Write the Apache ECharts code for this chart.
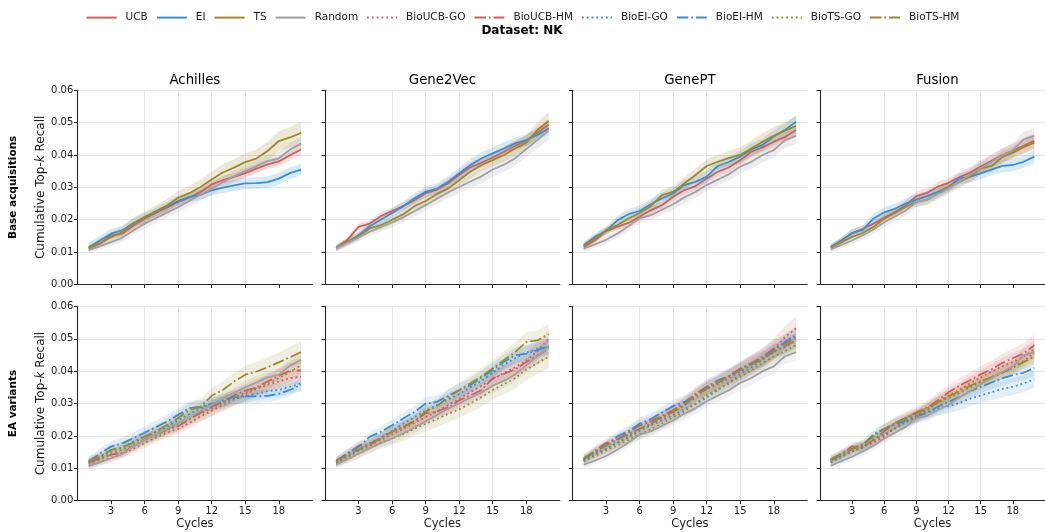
<!DOCTYPE html>
<html>
<head>
<meta charset="utf-8">
<script src="https://cdn.jsdelivr.net/npm/echarts@6/dist/echarts.min.js"></script>
<style>html,body{margin:0;padding:0;background:#fff}#c{width:1045px;height:532px}</style>
</head>
<body>
<div id="c"></div>
<script>
// ---------------- DATA ----------------
const CYCLES = [1,2,3,4,5,6,7,8,9,10,11,12,13,14,15,16,17,18,19,20];
const X_TICKS = [3,6,9,12,15,18];
const Y_TICKS_MAX = 0.06;
const DATASETS = ['Achilles','Gene2Vec','GenePT','Fusion'];
const ROW_LABELS = ['Base acquisitions','EA variants'];
const METHODS = ['UCB','EI','TS','Random','BioUCB-GO','BioUCB-HM','BioEI-GO','BioEI-HM','BioTS-GO','BioTS-HM'];

// Achilles
const ACH_UCB = [0.0111,0.0126,0.0152,0.0157,0.0182,0.0203,0.0221,0.0237,0.0255,0.0268,0.0286,0.0309,0.0322,0.0332,0.0344,0.0358,0.0371,0.0380,0.0399,0.0417];
const ACH_EI  = [0.0115,0.0136,0.0157,0.0167,0.0190,0.0206,0.0224,0.0241,0.0258,0.0270,0.0277,0.0291,0.0299,0.0306,0.0312,0.0313,0.0316,0.0327,0.0344,0.0355];
const ACH_TS  = [0.0113,0.0128,0.0146,0.0162,0.0188,0.0208,0.0226,0.0244,0.0268,0.0282,0.0301,0.0324,0.0346,0.0361,0.0378,0.0389,0.0412,0.0443,0.0454,0.0468];
const ACH_RND = [0.0107,0.0118,0.0131,0.0144,0.0167,0.0188,0.0205,0.0222,0.0239,0.0258,0.0277,0.0296,0.0316,0.0334,0.0350,0.0365,0.0381,0.0389,0.0417,0.0435];
const ACH_UCB_SD = [0.0008,0.0008,0.0009,0.0009,0.0010,0.0010,0.0010,0.0011,0.0011,0.0012,0.0012,0.0012,0.0013,0.0013,0.0014,0.0014,0.0015,0.0016,0.0017,0.0018];
const ACH_EI_SD  = [0.0012,0.0014,0.0015,0.0015,0.0015,0.0014,0.0014,0.0014,0.0015,0.0015,0.0016,0.0016,0.0017,0.0017,0.0017,0.0018,0.0018,0.0018,0.0018,0.0018];
const ACH_TS_SD  = [0.0012,0.0013,0.0014,0.0016,0.0017,0.0018,0.0019,0.0020,0.0021,0.0022,0.0023,0.0024,0.0025,0.0026,0.0027,0.0028,0.0029,0.0030,0.0032,0.0034];
const ACH_RND_SD = [0.0010,0.0011,0.0012,0.0013,0.0014,0.0015,0.0015,0.0016,0.0016,0.0017,0.0017,0.0018,0.0018,0.0018,0.0019,0.0019,0.0020,0.0020,0.0021,0.0021];
const ACH_BUCB_GO = [0.0108,0.0120,0.0132,0.0145,0.0160,0.0178,0.0195,0.0210,0.0222,0.0240,0.0260,0.0278,0.0295,0.0312,0.0328,0.0345,0.0358,0.0368,0.0378,0.0383];
const ACH_BUCB_HM = [0.0118,0.0130,0.0142,0.0148,0.0168,0.0190,0.0205,0.0220,0.0230,0.0250,0.0272,0.0290,0.0305,0.0325,0.0340,0.0350,0.0368,0.0385,0.0402,0.0402];
const ACH_BEI_GO  = [0.0118,0.0135,0.0152,0.0165,0.0183,0.0198,0.0212,0.0228,0.0248,0.0268,0.0285,0.0298,0.0305,0.0315,0.0322,0.0330,0.0338,0.0342,0.0352,0.0362];
const ACH_BEI_HM  = [0.0120,0.0146,0.0167,0.0177,0.0193,0.0210,0.0227,0.0244,0.0265,0.0286,0.0290,0.0299,0.0311,0.0320,0.0322,0.0322,0.0324,0.0330,0.0342,0.0358];
const ACH_BTS_GO  = [0.0115,0.0128,0.0145,0.0158,0.0172,0.0188,0.0202,0.0218,0.0235,0.0255,0.0268,0.0285,0.0302,0.0318,0.0333,0.0348,0.0362,0.0378,0.0398,0.0418];
const ACH_BTS_HM  = [0.0124,0.0136,0.0157,0.0165,0.0179,0.0198,0.0213,0.0234,0.0255,0.0280,0.0290,0.0324,0.0342,0.0368,0.0389,0.0399,0.0412,0.0427,0.0443,0.0459];
const ACH_BUCB_GO_SD = [0.0010,0.0011,0.0012,0.0013,0.0014,0.0015,0.0015,0.0016,0.0016,0.0017,0.0017,0.0018,0.0018,0.0019,0.0019,0.0020,0.0020,0.0021,0.0021,0.0022];
const ACH_BUCB_HM_SD = [0.0012,0.0012,0.0013,0.0014,0.0015,0.0015,0.0016,0.0017,0.0017,0.0018,0.0018,0.0019,0.0020,0.0020,0.0021,0.0022,0.0022,0.0023,0.0024,0.0025];
const ACH_BEI_GO_SD  = [0.0012,0.0013,0.0014,0.0015,0.0016,0.0016,0.0017,0.0017,0.0018,0.0018,0.0018,0.0019,0.0019,0.0019,0.0020,0.0020,0.0020,0.0021,0.0021,0.0022];
const ACH_BEI_HM_SD  = [0.0014,0.0016,0.0017,0.0018,0.0019,0.0020,0.0021,0.0021,0.0022,0.0022,0.0021,0.0020,0.0020,0.0020,0.0020,0.0020,0.0019,0.0019,0.0018,0.0018];
const ACH_BTS_GO_SD  = [0.0012,0.0013,0.0014,0.0015,0.0016,0.0017,0.0018,0.0019,0.0020,0.0021,0.0022,0.0023,0.0024,0.0025,0.0026,0.0027,0.0028,0.0029,0.0030,0.0031];
const ACH_BTS_HM_SD  = [0.0014,0.0015,0.0016,0.0017,0.0018,0.0019,0.0020,0.0021,0.0022,0.0023,0.0024,0.0025,0.0026,0.0027,0.0028,0.0029,0.0030,0.0031,0.0033,0.0035];

// Gene2Vec
const G2V_UCB = [0.0113,0.0138,0.0178,0.0188,0.0211,0.0227,0.0242,0.0260,0.0281,0.0293,0.0312,0.0338,0.0362,0.0376,0.0392,0.0410,0.0428,0.0444,0.0469,0.0493];
const G2V_EI  = [0.0113,0.0131,0.0152,0.0180,0.0200,0.0221,0.0242,0.0266,0.0286,0.0296,0.0317,0.0343,0.0369,0.0390,0.0405,0.0420,0.0436,0.0446,0.0462,0.0482];
const G2V_TS  = [0.0113,0.0131,0.0149,0.0173,0.0183,0.0200,0.0217,0.0242,0.0258,0.0279,0.0296,0.0322,0.0348,0.0369,0.0384,0.0400,0.0420,0.0438,0.0477,0.0505];
const G2V_RND = [0.0111,0.0128,0.0145,0.0163,0.0178,0.0192,0.0208,0.0226,0.0245,0.0265,0.0284,0.0301,0.0318,0.0334,0.0355,0.0370,0.0390,0.0418,0.0446,0.0475];
const G2V_UCB_SD = [0.0008,0.0009,0.0010,0.0010,0.0011,0.0011,0.0012,0.0012,0.0013,0.0013,0.0014,0.0014,0.0015,0.0015,0.0016,0.0016,0.0016,0.0017,0.0017,0.0018];
const G2V_EI_SD  = [0.0009,0.0010,0.0011,0.0012,0.0013,0.0014,0.0015,0.0016,0.0017,0.0017,0.0018,0.0018,0.0019,0.0019,0.0019,0.0019,0.0018,0.0018,0.0017,0.0017];
const G2V_TS_SD  = [0.0010,0.0011,0.0012,0.0013,0.0013,0.0014,0.0015,0.0015,0.0016,0.0017,0.0017,0.0018,0.0019,0.0019,0.0020,0.0021,0.0022,0.0023,0.0025,0.0027];
const G2V_RND_SD = [0.0010,0.0011,0.0012,0.0013,0.0014,0.0015,0.0015,0.0016,0.0017,0.0018,0.0018,0.0019,0.0020,0.0021,0.0022,0.0022,0.0023,0.0024,0.0026,0.0028];
const G2V_BUCB_GO = [0.0115,0.0132,0.0155,0.0170,0.0188,0.0205,0.0222,0.0240,0.0258,0.0275,0.0295,0.0315,0.0335,0.0355,0.0375,0.0395,0.0412,0.0432,0.0462,0.0500];
const G2V_BUCB_HM = [0.0122,0.0145,0.0170,0.0172,0.0195,0.0213,0.0228,0.0245,0.0270,0.0275,0.0288,0.0310,0.0325,0.0342,0.0378,0.0392,0.0405,0.0428,0.0448,0.0470];
const G2V_BEI_GO  = [0.0118,0.0138,0.0155,0.0178,0.0195,0.0215,0.0238,0.0258,0.0278,0.0295,0.0312,0.0330,0.0350,0.0370,0.0395,0.0420,0.0440,0.0458,0.0468,0.0475];
const G2V_BEI_HM  = [0.0123,0.0146,0.0166,0.0197,0.0213,0.0233,0.0254,0.0274,0.0300,0.0305,0.0323,0.0341,0.0357,0.0380,0.0403,0.0429,0.0449,0.0454,0.0465,0.0477];
const G2V_BTS_GO  = [0.0115,0.0128,0.0145,0.0162,0.0178,0.0192,0.0205,0.0222,0.0238,0.0252,0.0268,0.0282,0.0300,0.0320,0.0342,0.0360,0.0378,0.0405,0.0425,0.0444];
const G2V_BTS_HM  = [0.0123,0.0141,0.0158,0.0177,0.0192,0.0213,0.0228,0.0247,0.0275,0.0292,0.0319,0.0341,0.0362,0.0384,0.0408,0.0434,0.0459,0.0490,0.0495,0.0514];
const G2V_BUCB_GO_SD = [0.0011,0.0012,0.0013,0.0014,0.0015,0.0016,0.0017,0.0018,0.0018,0.0019,0.0020,0.0021,0.0021,0.0022,0.0023,0.0024,0.0025,0.0026,0.0027,0.0028];
const G2V_BUCB_HM_SD = [0.0012,0.0013,0.0014,0.0015,0.0016,0.0016,0.0017,0.0018,0.0019,0.0019,0.0020,0.0021,0.0022,0.0022,0.0023,0.0024,0.0025,0.0025,0.0026,0.0027];
const G2V_BEI_GO_SD  = [0.0011,0.0012,0.0013,0.0014,0.0015,0.0016,0.0016,0.0017,0.0018,0.0018,0.0019,0.0019,0.0020,0.0020,0.0021,0.0021,0.0022,0.0022,0.0023,0.0023];
const G2V_BEI_HM_SD  = [0.0012,0.0013,0.0014,0.0015,0.0016,0.0017,0.0018,0.0019,0.0020,0.0020,0.0021,0.0021,0.0022,0.0022,0.0023,0.0023,0.0024,0.0024,0.0025,0.0025];
const G2V_BTS_GO_SD  = [0.0012,0.0013,0.0015,0.0016,0.0018,0.0019,0.0021,0.0022,0.0024,0.0025,0.0026,0.0027,0.0028,0.0029,0.0030,0.0031,0.0032,0.0033,0.0034,0.0035];
const G2V_BTS_HM_SD  = [0.0013,0.0014,0.0015,0.0016,0.0017,0.0018,0.0019,0.0020,0.0021,0.0022,0.0023,0.0024,0.0025,0.0026,0.0027,0.0028,0.0029,0.0030,0.0031,0.0032];

// GenePT
const GPT_UCB = [0.0116,0.0136,0.0165,0.0178,0.0190,0.0209,0.0229,0.0245,0.0271,0.0291,0.0304,0.0327,0.0348,0.0362,0.0384,0.0410,0.0424,0.0441,0.0455,0.0477];
const GPT_EI  = [0.0121,0.0147,0.0165,0.0198,0.0217,0.0227,0.0248,0.0266,0.0281,0.0307,0.0317,0.0333,0.0366,0.0379,0.0395,0.0417,0.0431,0.0457,0.0477,0.0503];
const GPT_TS  = [0.0118,0.0142,0.0167,0.0183,0.0204,0.0221,0.0242,0.0276,0.0286,0.0312,0.0338,0.0366,0.0379,0.0390,0.0400,0.0420,0.0441,0.0459,0.0475,0.0490];
const GPT_RND = [0.0111,0.0124,0.0138,0.0157,0.0180,0.0204,0.0214,0.0231,0.0248,0.0269,0.0286,0.0307,0.0324,0.0341,0.0364,0.0379,0.0400,0.0415,0.0446,0.0459];
const GPT_UCB_SD = [0.0008,0.0009,0.0010,0.0010,0.0011,0.0011,0.0012,0.0012,0.0013,0.0013,0.0014,0.0014,0.0014,0.0015,0.0015,0.0016,0.0016,0.0017,0.0017,0.0018];
const GPT_EI_SD  = [0.0010,0.0011,0.0012,0.0014,0.0016,0.0017,0.0017,0.0017,0.0017,0.0017,0.0018,0.0018,0.0018,0.0018,0.0018,0.0019,0.0019,0.0019,0.0020,0.0020];
const GPT_TS_SD  = [0.0010,0.0011,0.0012,0.0013,0.0014,0.0015,0.0016,0.0017,0.0018,0.0019,0.0020,0.0021,0.0022,0.0023,0.0024,0.0025,0.0026,0.0027,0.0028,0.0029];
const GPT_RND_SD = [0.0010,0.0011,0.0012,0.0013,0.0014,0.0015,0.0015,0.0016,0.0017,0.0018,0.0018,0.0019,0.0019,0.0020,0.0021,0.0022,0.0022,0.0023,0.0024,0.0025];
const GPT_BUCB_GO = [0.0125,0.0145,0.0160,0.0178,0.0198,0.0218,0.0235,0.0255,0.0272,0.0295,0.0318,0.0345,0.0360,0.0378,0.0398,0.0420,0.0440,0.0468,0.0505,0.0532];
const GPT_BUCB_HM = [0.0128,0.0155,0.0178,0.0190,0.0210,0.0232,0.0245,0.0262,0.0280,0.0302,0.0330,0.0352,0.0365,0.0385,0.0408,0.0425,0.0445,0.0470,0.0485,0.0505];
const GPT_BEI_GO  = [0.0122,0.0142,0.0160,0.0178,0.0195,0.0215,0.0232,0.0248,0.0265,0.0282,0.0298,0.0318,0.0342,0.0365,0.0390,0.0412,0.0435,0.0460,0.0475,0.0495];
const GPT_BEI_HM  = [0.0128,0.0150,0.0172,0.0198,0.0215,0.0238,0.0252,0.0272,0.0292,0.0305,0.0325,0.0350,0.0372,0.0385,0.0405,0.0422,0.0440,0.0465,0.0490,0.0512];
const GPT_BTS_GO  = [0.0122,0.0138,0.0155,0.0170,0.0188,0.0205,0.0220,0.0238,0.0258,0.0275,0.0300,0.0325,0.0345,0.0362,0.0382,0.0402,0.0425,0.0445,0.0462,0.0480];
const GPT_BTS_HM  = [0.0132,0.0152,0.0170,0.0188,0.0205,0.0222,0.0238,0.0258,0.0275,0.0295,0.0325,0.0345,0.0365,0.0385,0.0402,0.0420,0.0438,0.0460,0.0478,0.0495];
const GPT_BUCB_GO_SD = [0.0012,0.0013,0.0014,0.0015,0.0016,0.0017,0.0018,0.0019,0.0020,0.0021,0.0022,0.0023,0.0024,0.0026,0.0027,0.0029,0.0031,0.0033,0.0035,0.0037];
const GPT_BUCB_HM_SD = [0.0012,0.0013,0.0014,0.0015,0.0016,0.0016,0.0017,0.0018,0.0019,0.0020,0.0021,0.0022,0.0023,0.0024,0.0025,0.0026,0.0027,0.0028,0.0029,0.0030];
const GPT_BEI_GO_SD  = [0.0011,0.0012,0.0013,0.0014,0.0015,0.0016,0.0017,0.0017,0.0018,0.0019,0.0019,0.0020,0.0021,0.0021,0.0022,0.0022,0.0023,0.0023,0.0024,0.0024];
const GPT_BEI_HM_SD  = [0.0012,0.0013,0.0014,0.0016,0.0017,0.0018,0.0019,0.0019,0.0020,0.0020,0.0021,0.0022,0.0022,0.0023,0.0023,0.0024,0.0024,0.0025,0.0025,0.0026];
const GPT_BTS_GO_SD  = [0.0011,0.0012,0.0013,0.0014,0.0015,0.0016,0.0016,0.0017,0.0018,0.0018,0.0019,0.0019,0.0020,0.0020,0.0021,0.0021,0.0022,0.0022,0.0023,0.0023];
const GPT_BTS_HM_SD  = [0.0012,0.0013,0.0014,0.0015,0.0016,0.0017,0.0017,0.0018,0.0019,0.0019,0.0020,0.0020,0.0021,0.0021,0.0022,0.0022,0.0023,0.0023,0.0024,0.0024];

// Fusion
const FUS_UCB = [0.0114,0.0136,0.0159,0.0172,0.0188,0.0207,0.0224,0.0245,0.0273,0.0283,0.0302,0.0314,0.0331,0.0345,0.0364,0.0382,0.0400,0.0413,0.0428,0.0444];
const FUS_EI  = [0.0116,0.0136,0.0159,0.0169,0.0204,0.0223,0.0234,0.0250,0.0262,0.0273,0.0286,0.0302,0.0327,0.0333,0.0343,0.0355,0.0366,0.0369,0.0379,0.0395];
const FUS_TS  = [0.0114,0.0131,0.0147,0.0159,0.0178,0.0204,0.0221,0.0240,0.0255,0.0262,0.0281,0.0302,0.0317,0.0333,0.0358,0.0366,0.0393,0.0407,0.0424,0.0438];
const FUS_RND = [0.0108,0.0122,0.0136,0.0152,0.0170,0.0192,0.0210,0.0228,0.0255,0.0262,0.0280,0.0296,0.0318,0.0338,0.0360,0.0378,0.0398,0.0415,0.0448,0.0459];
const FUS_UCB_SD = [0.0009,0.0010,0.0011,0.0011,0.0012,0.0013,0.0013,0.0014,0.0014,0.0015,0.0015,0.0016,0.0017,0.0018,0.0019,0.0020,0.0021,0.0022,0.0023,0.0024];
const FUS_EI_SD  = [0.0010,0.0011,0.0012,0.0013,0.0015,0.0016,0.0016,0.0016,0.0016,0.0016,0.0017,0.0017,0.0017,0.0018,0.0018,0.0018,0.0019,0.0019,0.0019,0.0020];
const FUS_TS_SD  = [0.0009,0.0010,0.0011,0.0011,0.0012,0.0013,0.0013,0.0014,0.0014,0.0015,0.0015,0.0016,0.0016,0.0017,0.0018,0.0018,0.0019,0.0019,0.0020,0.0021];
const FUS_RND_SD = [0.0010,0.0011,0.0012,0.0013,0.0014,0.0015,0.0015,0.0016,0.0016,0.0017,0.0018,0.0018,0.0019,0.0019,0.0020,0.0021,0.0021,0.0022,0.0023,0.0024];
const FUS_BUCB_GO = [0.0120,0.0138,0.0155,0.0165,0.0180,0.0198,0.0225,0.0245,0.0262,0.0280,0.0305,0.0325,0.0342,0.0362,0.0380,0.0398,0.0415,0.0428,0.0445,0.0468];
const FUS_BUCB_HM = [0.0128,0.0145,0.0168,0.0165,0.0188,0.0215,0.0240,0.0255,0.0272,0.0288,0.0310,0.0335,0.0355,0.0372,0.0390,0.0405,0.0425,0.0440,0.0455,0.0480];
const FUS_BEI_GO  = [0.0118,0.0135,0.0152,0.0165,0.0188,0.0205,0.0222,0.0242,0.0258,0.0272,0.0285,0.0292,0.0302,0.0315,0.0325,0.0335,0.0345,0.0352,0.0362,0.0375];
const FUS_BEI_HM  = [0.0125,0.0142,0.0160,0.0172,0.0205,0.0222,0.0235,0.0248,0.0260,0.0272,0.0290,0.0305,0.0320,0.0338,0.0352,0.0365,0.0378,0.0388,0.0395,0.0410];
const FUS_BTS_GO  = [0.0122,0.0138,0.0155,0.0168,0.0185,0.0205,0.0225,0.0245,0.0262,0.0282,0.0302,0.0318,0.0332,0.0350,0.0365,0.0380,0.0395,0.0412,0.0432,0.0455];
const FUS_BTS_HM  = [0.0128,0.0145,0.0160,0.0175,0.0198,0.0222,0.0240,0.0255,0.0268,0.0285,0.0305,0.0322,0.0338,0.0355,0.0368,0.0382,0.0395,0.0410,0.0428,0.0445];
const FUS_BUCB_GO_SD = [0.0011,0.0012,0.0013,0.0014,0.0015,0.0016,0.0017,0.0018,0.0019,0.0020,0.0021,0.0022,0.0022,0.0023,0.0024,0.0025,0.0026,0.0027,0.0028,0.0029];
const FUS_BUCB_HM_SD = [0.0012,0.0013,0.0014,0.0015,0.0016,0.0017,0.0018,0.0019,0.0020,0.0021,0.0022,0.0023,0.0024,0.0025,0.0026,0.0027,0.0028,0.0030,0.0032,0.0034];
const FUS_BEI_GO_SD  = [0.0011,0.0012,0.0013,0.0014,0.0015,0.0016,0.0017,0.0018,0.0019,0.0020,0.0021,0.0022,0.0023,0.0024,0.0024,0.0025,0.0025,0.0026,0.0026,0.0027];
const FUS_BEI_HM_SD  = [0.0011,0.0012,0.0013,0.0014,0.0015,0.0016,0.0017,0.0017,0.0018,0.0018,0.0019,0.0019,0.0020,0.0020,0.0021,0.0021,0.0022,0.0022,0.0023,0.0023];
const FUS_BTS_GO_SD  = [0.0011,0.0012,0.0013,0.0014,0.0015,0.0015,0.0016,0.0016,0.0017,0.0017,0.0018,0.0018,0.0019,0.0019,0.0020,0.0020,0.0021,0.0021,0.0022,0.0022];
const FUS_BTS_HM_SD  = [0.0011,0.0012,0.0013,0.0014,0.0015,0.0016,0.0016,0.0017,0.0017,0.0018,0.0018,0.0019,0.0019,0.0020,0.0020,0.0021,0.0021,0.0022,0.0022,0.0023];

// panel contents: [method, mean, band half-width]
const PANELS = [
  {row:0,col:0,lines:[['UCB',ACH_UCB,ACH_UCB_SD],['EI',ACH_EI,ACH_EI_SD],['TS',ACH_TS,ACH_TS_SD],['Random',ACH_RND,ACH_RND_SD]]},
  {row:0,col:1,lines:[['UCB',G2V_UCB,G2V_UCB_SD],['EI',G2V_EI,G2V_EI_SD],['TS',G2V_TS,G2V_TS_SD],['Random',G2V_RND,G2V_RND_SD]]},
  {row:0,col:2,lines:[['UCB',GPT_UCB,GPT_UCB_SD],['EI',GPT_EI,GPT_EI_SD],['TS',GPT_TS,GPT_TS_SD],['Random',GPT_RND,GPT_RND_SD]]},
  {row:0,col:3,lines:[['UCB',FUS_UCB,FUS_UCB_SD],['EI',FUS_EI,FUS_EI_SD],['TS',FUS_TS,FUS_TS_SD],['Random',FUS_RND,FUS_RND_SD]]},
  {row:1,col:0,lines:[['BioUCB-GO',ACH_BUCB_GO,ACH_BUCB_GO_SD],['BioUCB-HM',ACH_BUCB_HM,ACH_BUCB_HM_SD],['BioEI-GO',ACH_BEI_GO,ACH_BEI_GO_SD],['BioEI-HM',ACH_BEI_HM,ACH_BEI_HM_SD],['BioTS-GO',ACH_BTS_GO,ACH_BTS_GO_SD],['BioTS-HM',ACH_BTS_HM,ACH_BTS_HM_SD],['Random',ACH_RND,ACH_RND_SD]]},
  {row:1,col:1,lines:[['BioUCB-GO',G2V_BUCB_GO,G2V_BUCB_GO_SD],['BioUCB-HM',G2V_BUCB_HM,G2V_BUCB_HM_SD],['BioEI-GO',G2V_BEI_GO,G2V_BEI_GO_SD],['BioEI-HM',G2V_BEI_HM,G2V_BEI_HM_SD],['BioTS-GO',G2V_BTS_GO,G2V_BTS_GO_SD],['BioTS-HM',G2V_BTS_HM,G2V_BTS_HM_SD],['Random',G2V_RND,G2V_RND_SD]]},
  {row:1,col:2,lines:[['BioUCB-GO',GPT_BUCB_GO,GPT_BUCB_GO_SD],['BioUCB-HM',GPT_BUCB_HM,GPT_BUCB_HM_SD],['BioEI-GO',GPT_BEI_GO,GPT_BEI_GO_SD],['BioEI-HM',GPT_BEI_HM,GPT_BEI_HM_SD],['BioTS-GO',GPT_BTS_GO,GPT_BTS_GO_SD],['BioTS-HM',GPT_BTS_HM,GPT_BTS_HM_SD],['Random',GPT_RND,GPT_RND_SD]]},
  {row:1,col:3,lines:[['BioUCB-GO',FUS_BUCB_GO,FUS_BUCB_GO_SD],['BioUCB-HM',FUS_BUCB_HM,FUS_BUCB_HM_SD],['BioEI-GO',FUS_BEI_GO,FUS_BEI_GO_SD],['BioEI-HM',FUS_BEI_HM,FUS_BEI_HM_SD],['BioTS-GO',FUS_BTS_GO,FUS_BTS_GO_SD],['BioTS-HM',FUS_BTS_HM,FUS_BTS_HM_SD],['Random',FUS_RND,FUS_RND_SD]]}
];

// ---------------- STYLE / LAYOUT ----------------
const FONT = 'DejaVu Sans';
const TXT = '#1a1a1a';
const C_UCB = '#d0605e', C_EI = '#3a8fd0', C_TS = '#9b8a2c', C_RND = '#a0a0a6';
const LW = 1.8;
const DOT = [1.8, 3.0];
const DASHDOT = [11.5, 2.9, 1.8, 2.9];
const STYLE = {
  'UCB':{c:C_UCB,d:'solid'}, 'EI':{c:C_EI,d:'solid'}, 'TS':{c:C_TS,d:'solid'}, 'Random':{c:C_RND,d:'solid'},
  'BioUCB-GO':{c:C_UCB,d:DOT}, 'BioUCB-HM':{c:C_UCB,d:DASHDOT},
  'BioEI-GO':{c:C_EI,d:DOT}, 'BioEI-HM':{c:C_EI,d:DASHDOT},
  'BioTS-GO':{c:C_TS,d:DOT}, 'BioTS-HM':{c:C_TS,d:DASHDOT}
};
const GRID_LEFT = [77.5, 325, 572.5, 820];
const GRID_TOP = [90.2, 306.4];
const GRID_W = 234.8, GRID_H = 194.3;
const BAND_ALPHA = [0.2, 0.15];

const grids = [], xAxes = [], yAxes = [], series = [];
PANELS.forEach((p, i) => {
  grids.push({left: GRID_LEFT[p.col], top: GRID_TOP[p.row], width: GRID_W, height: GRID_H, containLabel: false});
  xAxes.push({
    type: 'value', gridIndex: i, min: 0, max: 21, interval: 3,
    axisLine: {show: true, onZero: false, lineStyle: {color: '#262626', width: 1.1}},
    axisTick: {show: true, length: 3.5, customValues: X_TICKS, lineStyle: {color: '#262626', width: 1}},
    axisLabel: {show: p.row === 1, customValues: X_TICKS, fontSize: 10, color: TXT, fontFamily: FONT, margin: 6,
      formatter: v => (X_TICKS.indexOf(v) >= 0 ? String(v) : '')},
    splitLine: {show: true, showMinLine: false, showMaxLine: false, lineStyle: {color: '#e6e6e6', width: 1}},
    name: p.row === 1 ? 'Cycles' : '', nameLocation: 'middle', nameGap: 17.5,
    nameTextStyle: {fontSize: 11.5, color: TXT, fontFamily: FONT}
  });
  yAxes.push({
    type: 'value', gridIndex: i, min: 0, max: Y_TICKS_MAX, interval: 0.01,
    axisLine: {show: true, lineStyle: {color: '#262626', width: 1.1}},
    axisTick: {show: true, length: 3.5, lineStyle: {color: '#262626', width: 1}},
    axisLabel: {show: p.col === 0, fontSize: 10, color: TXT, fontFamily: FONT, margin: 4.2,
      formatter: v => v.toFixed(2)},
    splitLine: {show: true, showMinLine: false, lineStyle: {color: '#e6e6e6', width: 1}},
    name: p.col === 0 ? 'Cumulative Top-{k|k} Recall' : '', nameLocation: 'middle', nameGap: 29, nameRotate: 90,
    nameTextStyle: {fontSize: 12, color: TXT, fontFamily: FONT,
      rich: {k: {fontSize: 12, fontStyle: 'italic', color: TXT, fontFamily: FONT}}}
  });
  // bands first
  p.lines.forEach(([m, mean, sd]) => {
    const col = STYLE[m].c;
    series.push({
      type: 'custom', xAxisIndex: i, yAxisIndex: i, z: 1, silent: true,
      data: CYCLES.map((x, k) => [x, mean[k] - sd[k], mean[k] + sd[k]]),
      encode: {x: 0, y: [1, 2]},
      renderItem: (params, api) => {
        if (params.dataIndex !== 0) return null;
        const up = [], lo = [];
        for (let k = 0; k < CYCLES.length; k++) {
          up.push(api.coord([CYCLES[k], mean[k] + sd[k]]));
          lo.push(api.coord([CYCLES[k], mean[k] - sd[k]]));
        }
        return {type: 'polygon', shape: {points: up.concat(lo.reverse())},
          style: {fill: col, opacity: BAND_ALPHA[p.row]}};
      }
    });
  });
  p.lines.forEach(([m, mean]) => {
    const st = STYLE[m];
    series.push({
      name: m, type: 'line', xAxisIndex: i, yAxisIndex: i, z: 3,
      data: CYCLES.map((x, k) => [x, mean[k]]),
      symbol: 'none', showSymbol: false, smooth: false,
      lineStyle: {color: st.c, width: LW, type: st.d, cap: 'butt'},
      itemStyle: {color: st.c}
    });
  });
});

const graphics = [
  {type: 'text', x: 522, y: 30.5, style: {text: 'Dataset: NK', fontSize: 12, fontWeight: 'bold', fontFamily: FONT, fill: '#000', align: 'center', verticalAlign: 'middle'}}
];
DATASETS.forEach((d, c) => {
  graphics.push({type: 'text', x: GRID_LEFT[c] + GRID_W / 2, y: 81, style: {text: d, fontSize: 13.3, fontFamily: FONT, fill: '#000', align: 'center', verticalAlign: 'middle'}});
});
ROW_LABELS.forEach((r, j) => {
  graphics.push({type: 'text', x: 13.5, y: GRID_TOP[j] + GRID_H / 2, rotation: Math.PI / 2,
    style: {text: r, fontSize: 10.5, fontWeight: 'bold', fontFamily: FONT, fill: '#000', align: 'center', verticalAlign: 'middle'}});
});

const chart = echarts.init(document.getElementById('c'), null, {renderer: 'canvas'});
chart.setOption({
  animation: false,
  backgroundColor: '#fff',
  textStyle: {fontFamily: FONT},
  legend: {
    data: METHODS, top: 7, left: 'center', itemWidth: 30, itemHeight: 14, itemGap: 8,
    itemStyle: {opacity: 0},
    textStyle: {fontSize: 10.5, color: TXT, fontFamily: FONT, padding: [0, 0, 0, 4]},
    selectedMode: false
  },
  grid: grids, xAxis: xAxes, yAxis: yAxes, series: series, graphic: graphics
});
</script>
</body>
</html>
